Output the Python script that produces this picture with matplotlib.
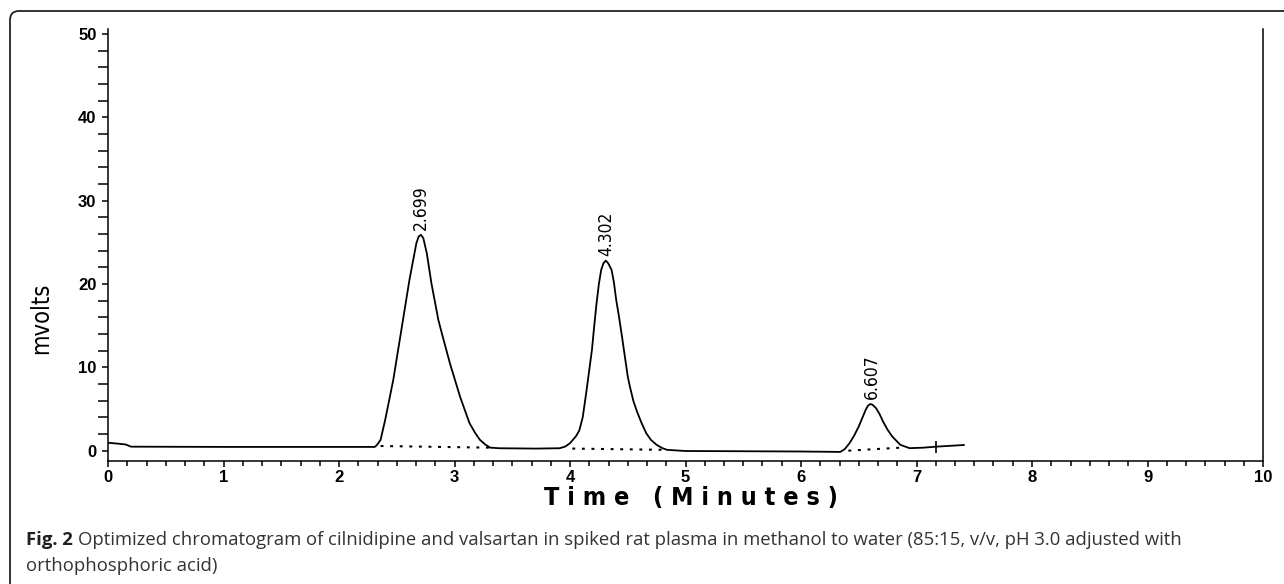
import numpy as np
import matplotlib
matplotlib.use("Agg")
import matplotlib.pyplot as plt
from matplotlib.patches import FancyBboxPatch
from matplotlib.ticker import MultipleLocator

# chromatogram trace (time in min, signal in mV)
time = [0.00, 0.08, 0.15, 0.20, 1.00, 2.00, 2.31, 2.33, 2.36, 2.40, 2.47, 2.54,
        2.61, 2.67, 2.69, 2.71, 2.73, 2.76, 2.80, 2.86, 2.89, 2.96, 3.05, 3.13,
        3.18, 3.22, 3.27, 3.31, 3.39, 3.70, 3.91, 3.96, 4.00, 4.05, 4.08, 4.11,
        4.14, 4.165, 4.19, 4.21, 4.23, 4.25, 4.27, 4.29, 4.31, 4.33, 4.36, 4.38,
        4.40, 4.425, 4.45, 4.475, 4.50, 4.52, 4.55, 4.58, 4.62, 4.66, 4.70, 4.75,
        4.80, 4.84, 5.00, 6.00, 6.34, 6.38, 6.42, 6.46, 6.50, 6.53, 6.56, 6.58,
        6.60, 6.62, 6.65, 6.68, 6.71, 6.75, 6.79, 6.86, 6.94, 7.06, 7.17, 7.41]
mvolts = [0.95, 0.85, 0.75, 0.48, 0.45, 0.45, 0.45, 0.7, 1.3, 3.7, 8.5, 14.5,
          20.5, 24.9, 25.7, 25.9, 25.5, 23.7, 20.1, 15.7, 14.1, 10.5, 6.4, 3.3,
          2.1, 1.3, 0.7, 0.36, 0.29, 0.25, 0.29, 0.5, 0.9, 1.7, 2.4, 4.0,
          6.9, 9.5, 12.1, 15.0, 17.7, 20.0, 21.7, 22.5, 22.8, 22.5, 21.7, 20.2,
          18.1, 16.0, 13.7, 11.3, 8.9, 7.6, 5.9, 4.7, 3.3, 2.1, 1.3, 0.7,
          0.3, 0.1, -0.04, -0.1, -0.15, 0.2, 0.9, 1.8, 2.9, 3.9, 4.9, 5.4,
          5.6, 5.5, 5.1, 4.4, 3.5, 2.5, 1.7, 0.7, 0.3, 0.36, 0.48, 0.68]

# integration baselines (dotted): start/end time and level
base_t0 = [2.36, 4.02, 6.41]
base_t1 = [3.30, 4.82, 6.85]
base_v0 = [0.56, 0.25, 0.0]
base_v1 = [0.36, 0.10, 0.35]

peak_rt = [2.699, 4.302, 6.607]
peak_top = [25.9, 22.8, 5.6]
peak_labels = ["2.699", "4.302", "6.607"]

end_mark_t = 7.17
end_mark_v = 0.48

narrow = ["DejaVu Sans Condensed", "Liberation Sans Narrow", "DejaVu Sans"]
plt.rcParams["font.family"] = ["Liberation Sans", "DejaVu Sans"]

W, H = 1284, 584
fig = plt.figure(figsize=(W / 100, H / 100), dpi=100)

# panel frame with rounded corner
frame = FancyBboxPatch((10, -30), 1400, 573 + 30, boxstyle="round,pad=0,rounding_size=9",
                       transform=None, fill=False, edgecolor="#222222", linewidth=1.3)
fig.add_artist(frame)

ax = fig.add_axes([108 / W, (H - 461) / H, (1263 - 108) / W, (461 - 29) / H])
ax.plot(time, mvolts, color="black", lw=1.3)
for a, b, c, d in zip(base_t0, base_t1, base_v0, base_v1):
    ax.plot([a, b], [c, d], color="black", lw=1.5, linestyle=(0, (1.4, 3.2)))
ax.plot([end_mark_t], [end_mark_v], marker="|", color="black", ms=8, mew=1.2)

for t, v, s in zip(peak_rt, peak_top, peak_labels):
    ax.text(t + 0.01, v + 0.6, s, rotation=90, ha="center", va="bottom",
            fontsize=12.5, family=narrow, fontstretch="condensed")

ax.set_xlim(0, 10)
ax.set_ylim(-1.24, 50.6)
ax.spines["top"].set_visible(False)
for s in ["left", "bottom", "right"]:
    ax.spines[s].set_linewidth(1.1)
ax.xaxis.set_major_locator(MultipleLocator(1))
ax.xaxis.set_minor_locator(MultipleLocator(1 / 6))
ax.yaxis.set_major_locator(MultipleLocator(10))
ax.yaxis.set_minor_locator(MultipleLocator(2))
ax.tick_params(axis="x", which="major", direction="out", length=4.5, width=1.1, pad=2)
ax.tick_params(axis="x", which="minor", direction="out", length=3.6, width=1.1)
ax.tick_params(axis="y", which="major", direction="out", length=4.3, width=1.1, pad=4)
ax.tick_params(axis="y", which="minor", direction="out", length=7, width=1.1)
for lab in ax.get_xticklabels() + ax.get_yticklabels():
    lab.set_fontweight("bold")
    lab.set_fontsize(12)

fig.text(41 / W, 1 - 318 / H, "mvolts", rotation=90, ha="center", va="center",
         fontsize=17, family=narrow, fontstretch="condensed")
fig.text(691 / W, 1 - 498 / H, "T i m e   ( M i n u t e s )", ha="center", va="center",
         fontsize=18, fontweight="bold", family=narrow, fontstretch="condensed")

cap_font = ["Open Sans", "DejaVu Sans"]
bold = fig.text(26 / W, 1 - 540 / H, "Fig. 2", ha="left", va="center", fontsize=13.3,
                fontweight="bold", family=cap_font, color="#231f20")
ax.annotate("Optimized chromatogram of cilnidipine and valsartan in spiked rat plasma in "
            "methanol to water (85:15, v/v, pH 3.0 adjusted with",
            xy=(1, 0), xycoords=bold, xytext=(4, 0), textcoords="offset points",
            ha="left", va="bottom", fontsize=13.3, family=cap_font, color="#333333",
            annotation_clip=False)
fig.text(26 / W, 1 - 566 / H, "orthophosphoric acid)", ha="left", va="center",
         fontsize=13.3, family=cap_font, color="#333333")

fig.savefig("out.png", dpi=100)
